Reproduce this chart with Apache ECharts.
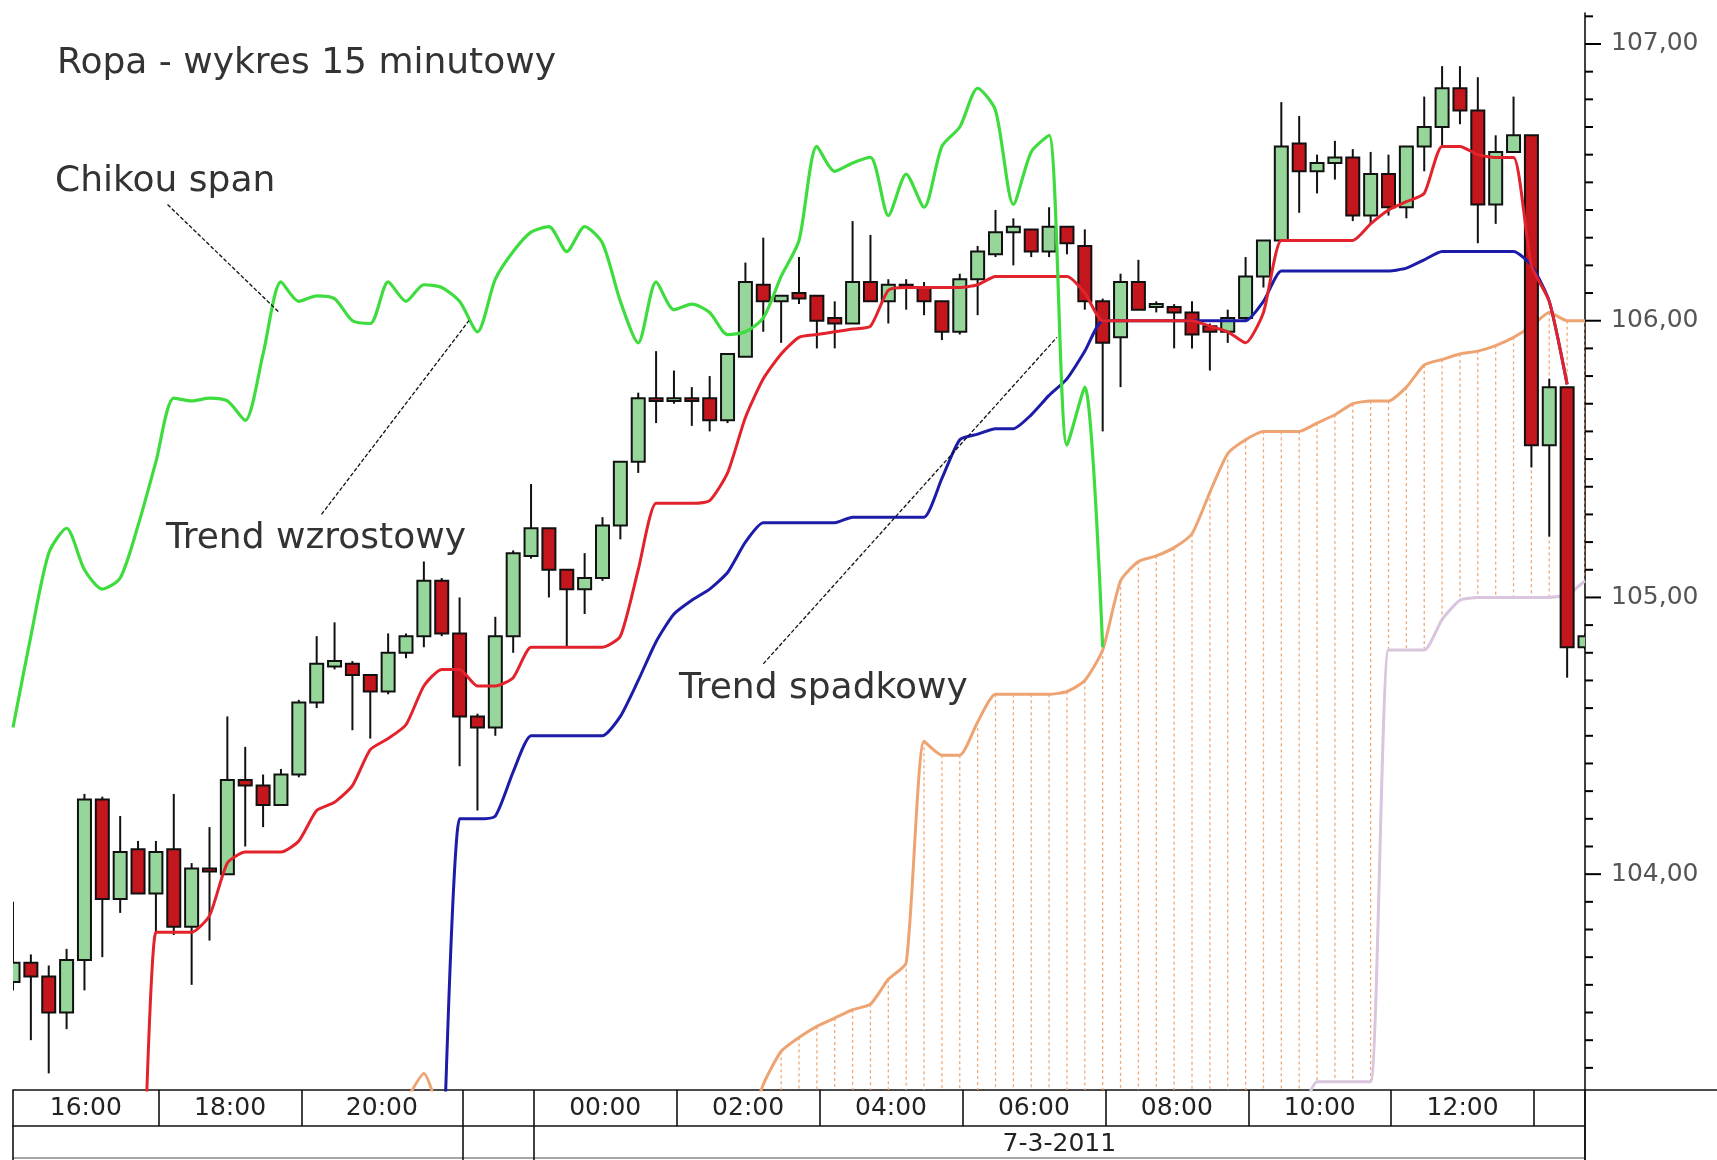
<!DOCTYPE html>
<html><head><meta charset="utf-8">
<script src="https://cdn.jsdelivr.net/npm/echarts@6/dist/echarts.min.js"></script>
<style>html,body{margin:0;padding:0;background:#fff}#c{width:1717px;height:1160px}</style>
</head><body><div id="c"></div>
<script>
function pad(n){ return Array(n).fill(null); }

const categories = ('16:00 16:15 16:30 16:45 17:00 17:15 17:30 17:45 18:00 18:15 18:30 18:45 19:00 19:15 19:30 19:45 ' +
  '20:00 20:15 20:30 20:45 21:00 21:15 21:30 21:45 22:00 23:00 23:15 23:30 23:45 ' +
  '00:00 00:15 00:30 00:45 01:00 01:15 01:30 01:45 02:00 02:15 02:30 02:45 03:00 03:15 03:30 03:45 ' +
  '04:00 04:15 04:30 04:45 05:00 05:15 05:30 05:45 06:00 06:15 06:30 06:45 07:00 07:15 07:30 07:45 ' +
  '08:00 08:15 08:30 08:45 09:00 09:15 09:30 09:45 10:00 10:15 10:30 10:45 11:00 11:15 11:30 11:45 ' +
  '12:00 12:15 12:30 12:45 13:00 13:15 13:30 13:45 14:00 14:15 14:30 14:45').split(' ');

const opens = [103.61,103.68,103.63,103.50,103.69,104.27,103.91,104.09,103.93,104.09,
  103.81,104.02,104.00,104.34,104.32,104.25,104.36,104.62,104.75,104.76,
  104.72,104.66,104.80,104.86,105.06,104.87,104.57,104.53,104.86,105.15,
  105.25,105.10,105.03,105.07,105.26,105.49,105.72,105.71,105.72,105.72,
  105.64,105.87,106.13,106.07,106.10,106.09,106.01,105.99,106.14,106.07,
  106.13,106.12,106.07,105.96,106.15,106.24,106.32,106.33,106.25,106.34,
  106.27,106.07,105.94,106.14,106.05,106.05,106.03,105.98,105.96,106.01,
  106.16,106.29,106.64,106.54,106.57,106.59,106.38,106.53,106.41,106.63,
  106.70,106.84,106.76,106.42,106.61,106.67,105.55,105.76,104.82];
const closes = [103.68,103.63,103.50,103.69,104.27,103.91,104.08,103.93,104.08,103.81,
  104.02,104.01,104.34,104.32,104.25,104.36,104.62,104.76,104.77,104.72,
  104.66,104.80,104.86,105.06,104.87,104.57,104.53,104.86,105.16,105.25,
  105.10,105.03,105.07,105.26,105.49,105.72,105.71,105.72,105.71,105.64,
  105.88,106.14,106.07,106.09,106.08,106.00,105.99,106.14,106.07,106.13,
  106.12,106.07,105.96,106.15,106.25,106.32,106.34,106.25,106.34,106.28,
  106.07,105.92,106.14,106.04,106.06,106.03,105.95,105.96,106.01,106.16,
  106.29,106.63,106.54,106.57,106.59,106.38,106.53,106.41,106.63,106.70,
  106.84,106.76,106.42,106.61,106.67,105.55,105.76,104.82,104.86];
const lows = [103.58,103.40,103.28,103.44,103.58,103.70,103.86,103.93,103.79,103.78,
  103.60,103.76,104.00,104.10,104.17,104.25,104.35,104.60,104.74,104.52,
  104.49,104.65,104.78,104.82,104.86,104.39,104.23,104.50,104.80,105.14,
  105.00,104.82,104.94,105.06,105.21,105.45,105.63,105.70,105.62,105.60,
  105.63,105.87,105.96,105.92,106.06,105.90,105.90,105.99,106.07,105.99,
  106.04,106.02,105.93,105.95,106.02,106.23,106.20,106.23,106.23,106.24,
  106.04,105.60,105.76,106.04,106.03,105.90,105.90,105.82,105.92,106.00,
  106.12,106.29,106.39,106.46,106.51,106.36,106.35,106.38,106.37,106.54,
  106.63,106.71,106.28,106.35,106.61,105.47,105.22,104.71,104.81];
const highs = [103.90,103.71,103.67,103.73,104.29,104.28,104.21,104.12,104.12,104.29,
  104.04,104.17,104.57,104.46,104.36,104.38,104.63,104.86,104.91,104.77,
  104.72,104.87,104.87,105.13,105.07,105.00,104.58,104.93,105.17,105.41,
  105.25,105.10,105.16,105.29,105.49,105.74,105.89,105.82,105.76,105.80,
  105.88,106.21,106.30,106.09,106.23,106.09,106.07,106.36,106.31,106.15,
  106.15,106.14,106.07,106.17,106.27,106.40,106.37,106.33,106.41,106.34,
  106.33,106.08,106.17,106.22,106.07,106.06,106.07,105.99,106.04,106.23,
  106.29,106.79,106.74,106.60,106.65,106.62,106.61,106.60,106.63,106.81,
  106.92,106.92,106.88,106.67,106.81,106.67,105.79,105.76,104.87];

const tenkan = [...pad(7), 102.10,103.79,103.79,103.79,103.85,104.04,104.08,104.08,104.08,104.12,
  104.23,104.26,104.32,104.45,104.49,104.54,104.68,104.74,104.74,104.68,
  104.68,104.71,104.82,104.82,104.82,104.82,104.82,104.86,105.10,105.34,
  105.34,105.34,105.35,105.45,105.65,105.79,105.88,105.94,105.95,105.96,
  105.97,105.98,106.11,106.12,106.12,106.12,106.12,106.13,106.16,106.16,
  106.16,106.16,106.16,106.10,106.00,106.00,106.00,106.00,106.00,106.00,
  105.98,105.96,105.92,106.03,106.29,106.29,106.29,106.29,106.29,106.35,
  106.40,106.43,106.46,106.63,106.63,106.60,106.59,106.59,106.20,106.07,
  105.77, null];
const kijun = [...pad(24), 102.74,104.20,104.20,104.21,104.37,104.50,104.50,104.50,104.50,104.50,
  104.57,104.70,104.84,104.94,104.99,105.03,105.09,105.20,105.27,105.27,
  105.27,105.27,105.27,105.29,105.29,105.29,105.29,105.29,105.43,105.57,
  105.59,105.61,105.61,105.66,105.73,105.79,105.89,106.00,106.00,106.00,
  106.00,106.00,106.00,106.00,106.00,106.00,106.07,106.18,106.18,106.18,
  106.18,106.18,106.18,106.18,106.19,106.22,106.25,106.25,106.25,106.25,
  106.25,106.20,106.07,105.77,null];
const chikou = [104.53,104.86,105.16,105.25,105.10,105.03,105.07,105.26,105.49,105.72,
  105.71,105.72,105.71,105.64,105.88,106.14,106.07,106.09,106.08,106.00,
  105.99,106.14,106.07,106.13,106.12,106.07,105.96,106.15,106.25,106.32,
  106.34,106.25,106.34,106.28,106.07,105.92,106.14,106.04,106.06,106.03,
  105.95,105.96,106.01,106.16,106.29,106.63,106.54,106.57,106.59,106.38,
  106.53,106.41,106.63,106.70,106.84,106.76,106.42,106.61,106.67,105.55,
  105.76,104.82, ...pad(27)];
const senkouA = [...pad(22), 103.18,103.28,103.10, ...pad(16),
  103.05,103.24,103.36,103.41,103.45,103.48,103.51,103.53,103.62,103.68,
  104.48,104.43,104.43,104.55,104.65,104.65,104.65,104.65,104.66,104.70,
  104.81,105.06,105.13,105.15,105.18,105.23,105.38,105.52,105.57,105.60,
  105.60,105.60,105.63,105.66,105.70,105.71,105.71,105.76,105.84,105.86,
  105.88,105.89,105.91,105.94,105.98,106.03,106.00,106.00];
const senkouB = [...pad(72), 103.10,103.25,103.25,103.25,103.25,104.81,104.81,104.81,104.92,104.99,
  105.00,105.00,105.00,105.00,105.00,105.01,105.06];

const yTickLabels = [104, 105, 106, 107];
const timeBoxStarts = [0, 8, 16, 25, 29, 37, 45, 53, 61, 69, 77, 85, 88];
const timeBoxLabels = ['16:00','18:00','20:00','','00:00','02:00','04:00','06:00','08:00','10:00','12:00',''];
const dateBoxStarts = [0, 25, 29, 88];
const dateBoxLabels = ['', '', '7-3-2011'];

const titleText = 'Ropa - wykres 15 minutowy';
const noteTexts = ['Chikou span', 'Trend wzrostowy', 'Trend spadkowy'];
const notePointers = [
  [[8.65, 106.42], [14.9, 106.03]],
  [[17.27, 105.30], [25.52, 106.00]],
  [[42.0, 104.76], [58.44, 105.94]]
];

// ---- layout / style ----
const Y_MIN = 103.22, Y_MAX = 107.112;
const GRID = {left: 13, right: 132, top: 13, bottom: 70};
const W = 1717, H = 1160;
const axisX = W - GRID.right, axisY = H - GRID.bottom;
const plotH = H - GRID.top - GRID.bottom;
const ROW = 36;
const BOX_SHIFT = 0.15;
const LAST = categories.length - 1;
const FONT = 'DejaVu Sans';
const UP = '#96d69a', DOWN = '#c4161d', EDGE = '#111';
const BODY_W = 13;
const MAJOR_TICK = 16, MINOR_TICK = 8;

function bounds(starts){ return starts.map((s,i)=> (i===0 || i===starts.length-1) ? s : s + BOX_SHIFT); }
function centers(b, labels, map){
  const out = [];
  labels.forEach((l,i)=>{ if(!l) return; const c = (b[i]+b[i+1])/2; out.push(c); map[c.toFixed(3)] = l; });
  return out;
}
const timeB = bounds(timeBoxStarts), timeMap = {}, timeC = centers(timeB, timeBoxLabels, timeMap);
const dateB = bounds(dateBoxStarts), dateMap = {}, dateC = centers(dateB, dateBoxLabels, dateMap);

const yAllTicks = [];
for (let k = Math.ceil(Y_MIN*10); k <= Math.floor(Y_MAX*10); k++) yAllTicks.push(k/10);

const candleData = opens.map((o,i)=>[i, o, closes[i], lows[i], highs[i]]);
const CLOUD_START = 42;
const cloudData = [];
senkouA.forEach((a,i)=>{
  if (i < CLOUD_START || a == null) return;
  const b = senkouB[i];
  const lo = (b != null && b > Y_MIN) ? b : Y_MIN;
  if (a > lo) cloudData.push([i, a, lo]);
});

function timeAxis(offset, ticks, cvals, map){
  return {type:'value', min:0, max:LAST, position:'bottom', offset: offset,
    axisLine:{show:true, onZero:false, lineStyle:{color:'#111', width:1.6}},
    axisTick:{show:true, customValues:ticks, length:ROW, inside:false, lineStyle:{color:'#111', width:1.6}},
    axisLabel:{show:true, customValues:cvals, formatter:v=>map[v.toFixed(3)]||'', margin:6,
      fontSize:25, fontFamily:FONT, color:'#222'},
    splitLine:{show:false}};
}

function renderCandle(params, api){
  const i = api.value(0), o = api.value(1), c = api.value(2), l = api.value(3), h = api.value(4);
  const pO = api.coord([i, o]), pC = api.coord([i, c]), pL = api.coord([i, l]), pH = api.coord([i, h]);
  const x = pO[0];
  const top = Math.min(pO[1], pC[1]), bot = Math.max(pO[1], pC[1]);
  const lw = {stroke:EDGE, lineWidth:2};
  return {type:'group', children:[
    {type:'line', shape:{x1:x, y1:pH[1], x2:x, y2:top}, style:lw},
    {type:'line', shape:{x1:x, y1:bot, x2:x, y2:pL[1]}, style:lw},
    {type:'rect', shape:{x:x - BODY_W/2, y:top, width:BODY_W, height:Math.max(bot - top, 2)},
      style:{fill: c >= o ? UP : DOWN, stroke:EDGE, lineWidth:2}}
  ]};
}

const lineBase = {type:'line', showSymbol:false, symbol:'none', silent:true, connectNulls:false, clip:true};

// outward y-axis ticks on the right side (same linear mapping as the value axis)
function yPix(v){ return GRID.top + (Y_MAX - v) / (Y_MAX - Y_MIN) * plotH; }
const tickGraphic = yAllTicks.map((v, k) => {
  const major = yTickLabels.some(m => Math.abs(m - v) < 1e-6);
  const y = yPix(v);
  return {type:'line', z:100, silent:true,
    shape:{x1:axisX, y1:y, x2:axisX + (major ? MAJOR_TICK : MINOR_TICK), y2:y},
    style:{stroke:'#000', lineWidth:2}};
});

const graphic = [
  {type:'text', x:57, y:64, style:{text:titleText, fontSize:36, fontFamily:FONT, fill:'#333', verticalAlign:'middle'}},
  {type:'text', x:55, y:182, style:{text:noteTexts[0], fontSize:36, fontFamily:FONT, fill:'#333', verticalAlign:'middle'}},
  {type:'text', x:166, y:539, style:{text:noteTexts[1], fontSize:36, fontFamily:FONT, fill:'#333', verticalAlign:'middle'}},
  {type:'text', x:679, y:689, style:{text:noteTexts[2], fontSize:36, fontFamily:FONT, fill:'#333', verticalAlign:'middle'}},
  {type:'line', shape:{x1:axisX, y1:axisY, x2:W, y2:axisY}, style:{stroke:'#111', lineWidth:1.6}},
  {type:'line', shape:{x1:axisX, y1:axisY, x2:axisX, y2:H}, style:{stroke:'#111', lineWidth:1.6}},
  {type:'line', shape:{x1:GRID.left, y1:H-2, x2:axisX, y2:H-2}, style:{stroke:'#888', lineWidth:1.5}}
].concat(tickGraphic);

const chart = echarts.init(document.getElementById('c'));
chart.setOption({
  animation:false,
  backgroundColor:'#ffffff',
  grid:Object.assign({containLabel:false, outerBoundsMode:'none'}, GRID),
  xAxis:[
    {type:'category', data:categories, boundaryGap:false, show:false},
    timeAxis(0, timeB, timeC, timeMap),
    timeAxis(ROW, dateB, dateC, dateMap)
  ],
  yAxis:[
    {type:'value', min:Y_MIN, max:Y_MAX, position:'right', offset:0,
      axisLine:{show:true, onZero:false, lineStyle:{color:'#111', width:1.6}},
      axisTick:{show:false},
      axisLabel:{show:true, customValues:yTickLabels, formatter:v=>v.toFixed(2).replace('.', ','),
        margin:26, fontSize:25, fontFamily:FONT, color:'#555'},
      splitLine:{show:false}}
  ],
  graphic: graphic,
  series:[
    {type:'custom', name:'cloud', xAxisIndex:0, yAxisIndex:0, clip:true, silent:true, z:1,
      data:cloudData, encode:{x:0, y:[1,2]},
      renderItem:(p, api)=>{
        const a = api.coord([api.value(0), api.value(1)]);
        const b = api.coord([api.value(0), api.value(2)]);
        return {type:'line', shape:{x1:a[0], y1:a[1], x2:b[0], y2:b[1]},
          style:{stroke:'#f0a878', lineWidth:1.3, lineDash:[3,3]}};
      }},
    Object.assign({}, lineBase, {name:'Senkou B', data:senkouB, smooth:0.2, z:2,
      lineStyle:{color:'#d9c5dd', width:3}}),
    Object.assign({}, lineBase, {name:'Senkou A', data:senkouA, smooth:0.2, z:2,
      lineStyle:{color:'#eea472', width:3}}),
    {type:'custom', name:'Ropa', xAxisIndex:0, yAxisIndex:0, clip:true, silent:true, z:3,
      data:candleData, encode:{x:0, y:[1,2,3,4]}, renderItem:renderCandle},
    Object.assign({}, lineBase, {name:'Kijun', data:kijun, smooth:0.2, z:4,
      lineStyle:{color:'#1c1ca8', width:3}}),
    Object.assign({}, lineBase, {name:'Tenkan', data:tenkan, smooth:0.2, z:4,
      lineStyle:{color:'#e2232c', width:3}}),
    Object.assign({}, lineBase, {name:'Chikou', data:chikou, smooth:0.25, z:5,
      lineStyle:{color:'#3fdc3f', width:3.2}}),
    ...notePointers.map(pts => Object.assign({}, lineBase, {xAxisIndex:1, yAxisIndex:0, data:pts, z:6,
      lineStyle:{color:'#111', width:1.3, type:[4,2]}}))
  ]
});
</script>
</body></html>
